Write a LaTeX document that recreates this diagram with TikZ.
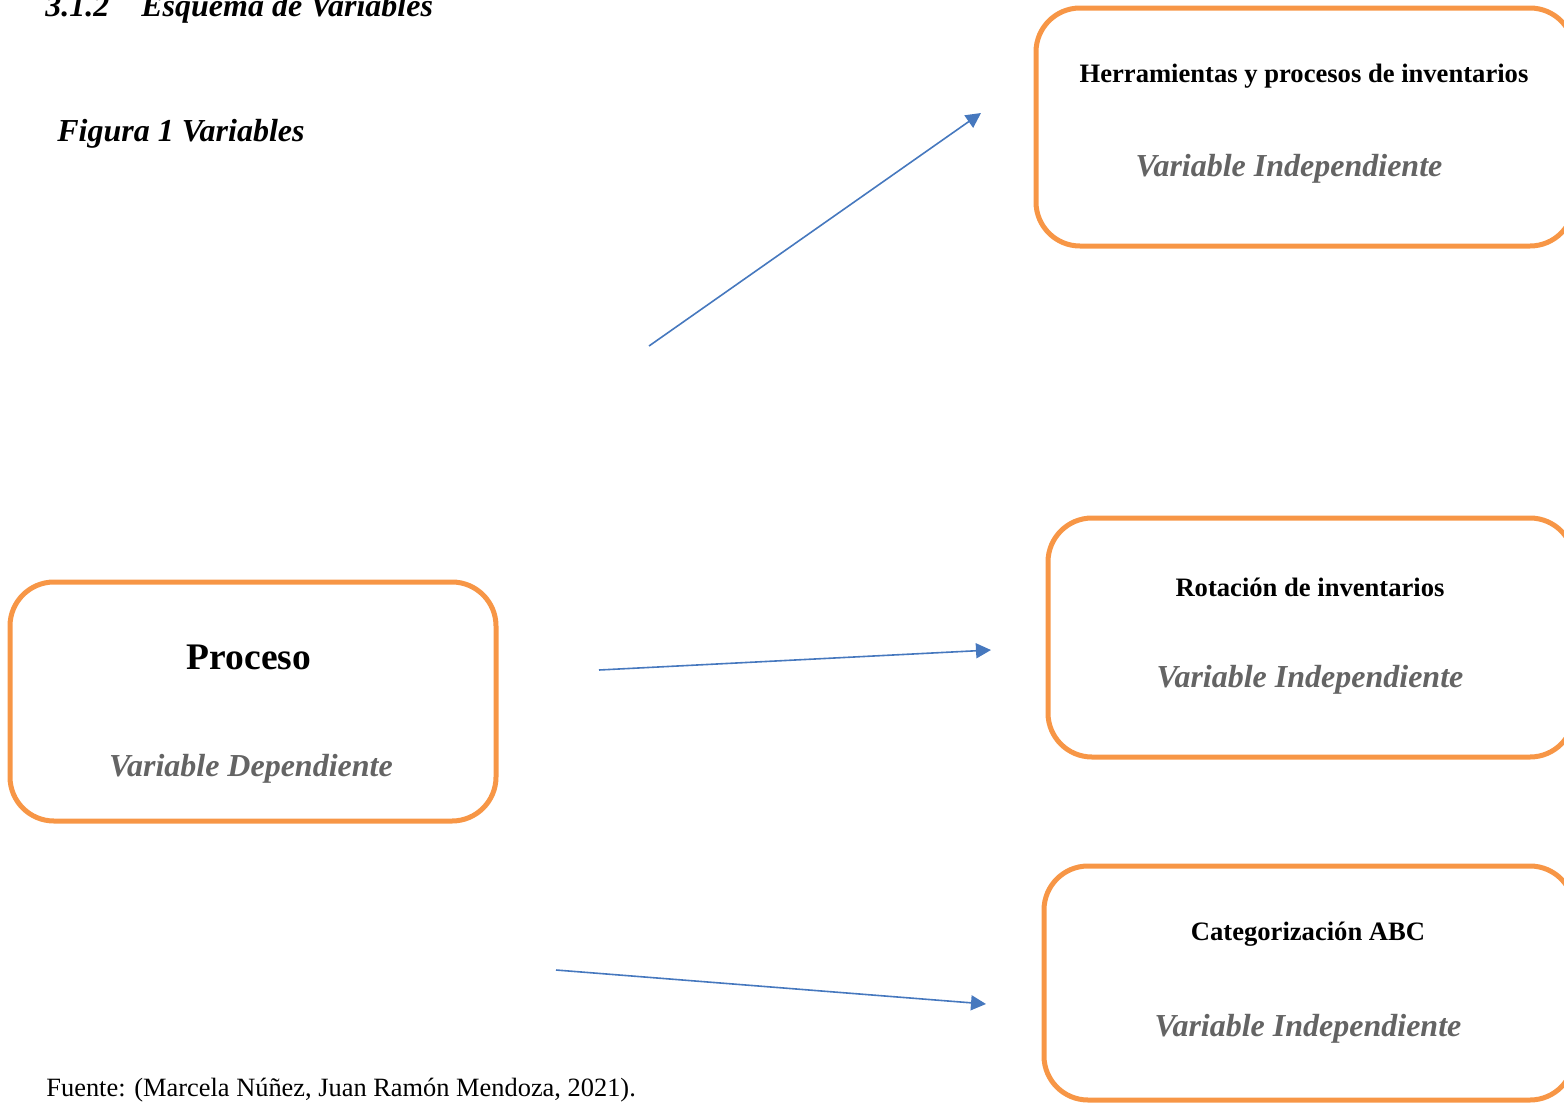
\documentclass[tikz,border=0pt]{standalone}
\usepackage{fontspec}
\setmainfont{Liberation Serif}
\usetikzlibrary{positioning,shapes,arrows.meta}
\definecolor{boxorange}{RGB}{247,150,70}
\definecolor{arrowblue}{RGB}{70,120,190}
\definecolor{labelgray}{RGB}{100,100,100}
\tikzstyle{varbox} = [draw=boxorange, line width=2.5pt, rectangle, rounded corners=22pt]
\tikzstyle{coord} = [coordinate]
\tikzstyle{head} = [font=\fontsize{13.3}{15}\selectfont\bfseries]
\tikzstyle{kind} = [font=\fontsize{16}{19}\selectfont\bfseries\itshape, text=labelgray]
\tikzstyle{link} = [draw=arrowblue, line width=0.8pt, -{Triangle[length=7.5pt,width=7.5pt]}]

\begin{document}
\begin{tikzpicture}[x=0.5pt,y=-0.5pt]
		\useasboundingbox (0,0) rectangle (1564,1104);
		\clip (0,0) rectangle (1564,1104);
		% titles
		\node (sec) [anchor=base west, inner sep=0pt, font=\fontsize{16}{19}\selectfont\bfseries\itshape] at (45,16) {3.1.2\hspace{16pt}Esquema de Variables};
		\node (fig) [anchor=base west, inner sep=0pt, font=\fontsize{16}{19}\selectfont\bfseries\itshape] at (57,141) {Figura 1 Variables};
		\node (src) [anchor=base west, inner sep=0pt, font=\fontsize{13.2}{15}\selectfont] at (46,1096) {Fuente: (Marcela Núñez, Juan Ramón Mendoza, 2021).};

		% boxes
		\node (proc) [varbox, minimum width=243pt, minimum height=119.5pt] at (253,701.5) {};
		\node (herr) [varbox, minimum width=269pt, minimum height=119pt] at (1305,127) {};
		\node (rot) [varbox, minimum width=263pt, minimum height=119.5pt] at (1311,637.5) {};
		\node (abc) [varbox, minimum width=265pt, minimum height=117pt] at (1309,983) {};

		% texts
		\node (proct) [font=\fontsize{18.75}{22}\selectfont\bfseries] at (249,657) {Proceso};
		\node (procv) [kind] at (251,769) {Variable Dependiente};
		\node (herrt) [head] at (1304,76) {Herramientas y procesos de inventarios};
		\node (herrv) [kind] at (1289,169) {Variable Independiente};
		\node (rott) [head] at (1310,587) {Rotación de inventarios};
		\node (rotv) [kind] at (1310,680) {Variable Independiente};
		\node (abct) [head] at (1308,934) {Categorización ABC};
		\node (abcv) [kind] at (1308,1029) {Variable Independiente};

		% arrows
		\coordinate (a1) at (649,346);
		\coordinate (b1) at (981,113);
		\coordinate (a2) at (599,670);
		\coordinate (b2) at (991,650);
		\coordinate (a3) at (556,970);
		\coordinate (b3) at (986,1004);
		\draw [link] (a1) -- (b1);
		\draw [link] (a2) -- (b2);
		\draw [link] (a3) -- (b3);
	\end{tikzpicture}
\end{document}
